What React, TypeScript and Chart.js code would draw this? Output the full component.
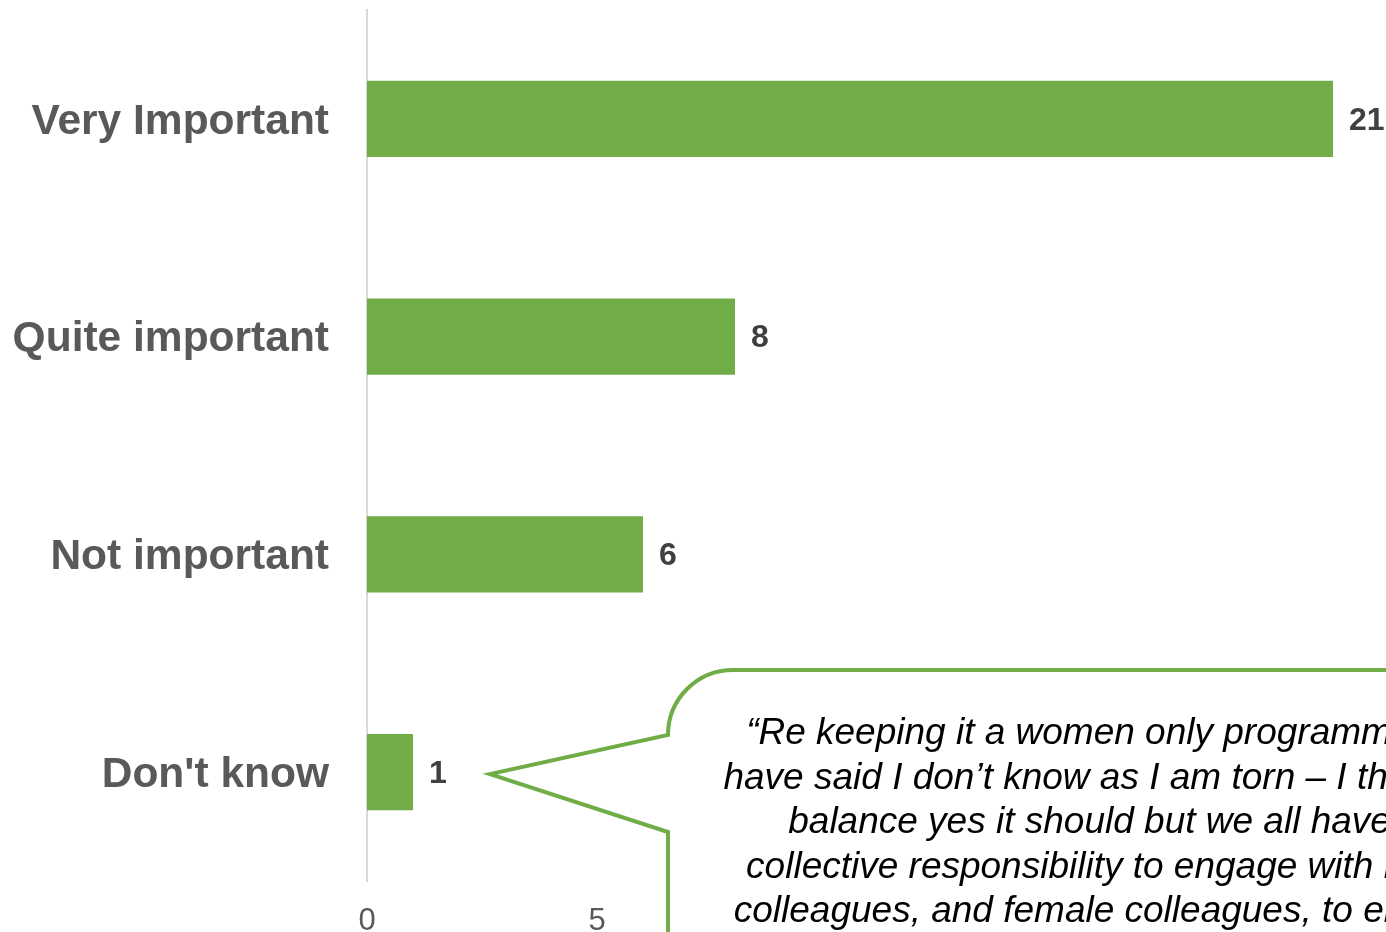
import React, { useEffect, useRef } from "react";
import { Chart, registerables } from "chart.js";

Chart.register(...registerables);

const categories = ["Very Important", "Quite important", "Not important", "Don't know"];
const values = [21, 8, 6, 1];
const xMin = 0;
const xMax = 25;
const xStep = 5;
const quoteLines = [
  "\u201CRe keeping it a women only programme \u2013 I",
  "have said I don\u2019t know as I am torn \u2013 I think on",
  "balance yes it should but we all have a",
  "collective responsibility to engage with male",
  "colleagues, and female colleagues, to ensure",
];

const GREEN = "#70ad47";
const FONT = "'Liberation Sans', Arial, Helvetica, sans-serif";

const dataLabelPlugin = {
  id: "dataLabels",
  afterDatasetsDraw(chart: any) {
    const ctx = chart.ctx;
    const meta = chart.getDatasetMeta(0);
    ctx.save();
    ctx.font = `bold 32px ${FONT}`;
    ctx.fillStyle = "#404040";
    ctx.textAlign = "left";
    ctx.textBaseline = "middle";
    meta.data.forEach((bar: any, i: number) => {
      ctx.fillText(String(values[i]), bar.x + 16, bar.y + 2);
    });
    ctx.restore();
  },
};

const calloutPlugin = {
  id: "callout",
  afterDraw(chart: any) {
    const ctx = chart.ctx;
    const yScale = chart.scales.y;
    const tipY = yScale.getPixelForValue(categories.length - 1) + 2;
    const left = 668;
    const top = 670;
    const r = 65;
    const tipX = 490;
    ctx.save();
    ctx.beginPath();
    ctx.moveTo(chart.width + 20, top);
    ctx.lineTo(left + r, top);
    ctx.arcTo(left, top, left, top + r, r);
    ctx.lineTo(left, top + r);
    ctx.lineTo(tipX, tipY);
    ctx.lineTo(left, 832);
    ctx.lineTo(left, chart.height + 20);
    ctx.lineTo(chart.width + 20, chart.height + 20);
    ctx.closePath();
    ctx.fillStyle = "#ffffff";
    ctx.fill();
    ctx.lineWidth = 4;
    ctx.strokeStyle = GREEN;
    ctx.lineJoin = "miter";
    ctx.stroke();
    ctx.restore();
  },
};

export default function App() {
  const ref = useRef<HTMLCanvasElement | null>(null);

  useEffect(() => {
    if (!ref.current) return;
    const chart = new Chart(ref.current, {
      type: "bar",
      data: {
        labels: categories,
        datasets: [
          {
            data: values,
            backgroundColor: GREEN,
            borderWidth: 0,
            barPercentage: 0.35,
            categoryPercentage: 1,
          },
        ],
      },
      options: {
        indexAxis: "y",
        responsive: false,
        animation: false,
        layout: { padding: { top: 10, right: 43, left: 0, bottom: 0 } },
        plugins: {
          legend: { display: false },
          tooltip: { enabled: false },
          title: { display: false },
        },
        scales: {
          x: {
            min: xMin,
            max: xMax,
            ticks: {
              stepSize: xStep,
              color: "#595959",
              font: { family: FONT, size: 31 },
              padding: 22,
            },
            grid: { display: false, drawTicks: false },
            border: { display: false },
            afterFit: (scale: any) => {
              scale.height = 51;
              scale.paddingLeft = 0;
              scale.paddingRight = 0;
              scale.paddingTop = 0;
              scale.paddingBottom = 0;
            },
          },
          y: {
            ticks: {
              color: "#595959",
              font: { family: FONT, size: 42.5, weight: "bold" },
              padding: 38,
              labelOffset: 3,
            },
            grid: { display: false, drawTicks: false },
            border: { display: true, color: "#d9d9d9", width: 2 },
            afterFit: (scale: any) => {
              scale.width = 367;
              scale.paddingLeft = 0;
              scale.paddingRight = 0;
              scale.paddingTop = 0;
              scale.paddingBottom = 0;
            },
          },
        },
      },
      plugins: [dataLabelPlugin, calloutPlugin],
    } as any);
    return () => chart.destroy();
  }, []);

  return (
    <div
      style={{
        position: "fixed",
        left: 0,
        top: 0,
        width: 1386,
        height: 932,
        overflow: "hidden",
        background: "#ffffff",
      }}
    >
      <canvas ref={ref} width={1560} height={932} style={{ display: "block" }} />
      <div
        style={{
          position: "absolute",
          left: 705,
          top: 710,
          width: 800,
          textAlign: "center",
          fontFamily: FONT,
          fontStyle: "italic",
          fontSize: 37,
          lineHeight: "44.6px",
          color: "#000000",
          whiteSpace: "nowrap",
        }}
      >
        {quoteLines.map((line, i) => (
          <div key={i}>{line}</div>
        ))}
      </div>
    </div>
  );
}
